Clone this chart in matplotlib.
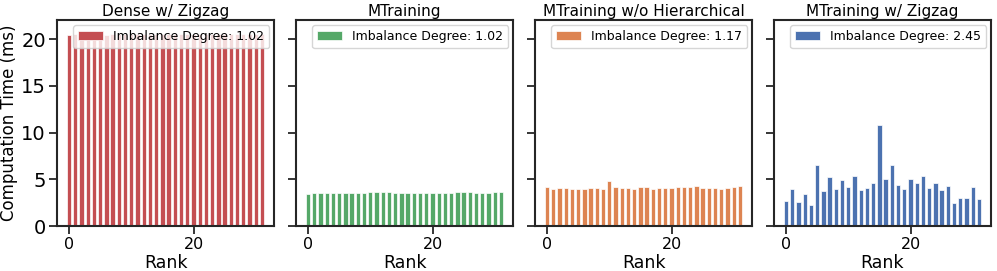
import numpy as np
import matplotlib
matplotlib.use('Agg')
import matplotlib.pyplot as plt

#-----------Data-------------

ranks = np.arange(32)

titles = ['Dense w/ Zigzag', 'MTraining', 'MTraining w/o Hierarchical', 'MTraining w/ Zigzag']
imbalance = ['1.02', '1.02', '1.17', '2.45']
colors = ['#C44E52', '#55A868', '#DD8452', '#4C72B0']

dense_zigzag = [20.4, 20.5, 20.5, 20.5, 20.5, 20.5, 20.4, 20.5, 20.5, 20.5, 20.5, 20.5,
                20.5, 20.5, 20.5, 20.5, 20.5, 20.5, 20.5, 20.5, 20.5, 20.5, 20.5, 20.5,
                20.5, 20.5, 20.5, 20.5, 20.5, 20.5, 20.5, 20.5]

mtraining = [3.46, 3.50, 3.57, 3.57, 3.57, 3.57, 3.57, 3.57, 3.50, 3.50, 3.61, 3.61,
             3.61, 3.61, 3.57, 3.50, 3.50, 3.57, 3.57, 3.57, 3.57, 3.57, 3.54, 3.54,
             3.61, 3.61, 3.61, 3.57, 3.57, 3.57, 3.61, 3.61]

mtraining_no_hier = [4.18, 3.96, 4.04, 4.04, 4.00, 3.96, 3.93, 4.04, 4.11, 4.00, 4.82, 4.14,
                     4.07, 4.07, 3.96, 4.14, 4.21, 4.00, 4.04, 4.04, 4.04, 4.14, 4.21, 4.14,
                     4.25, 4.07, 4.07, 4.07, 4.00, 4.11, 4.14, 4.25]

mtraining_zigzag = [2.64, 3.93, 2.54, 3.39, 2.29, 6.57, 3.79, 5.21, 3.96, 4.93, 4.14, 5.32,
                    3.89, 4.04, 4.61, 10.79, 5.07, 6.50, 4.36, 3.93, 5.00, 4.57, 5.39, 4.04,
                    4.57, 3.89, 4.29, 2.50, 2.96, 2.96, 4.18, 2.89]

series = [dense_zigzag, mtraining, mtraining_no_hier, mtraining_zigzag]

#-----------Figure-------------

fig = plt.figure(figsize=(9.97, 2.71), dpi=100)
W, H = 997, 271
lefts = [57, 296, 535, 774]
axw, bottom, top = 217, 226, 20

axes = []
for i in range(4):
    ax = fig.add_axes([lefts[i] / W, 1 - bottom / H, axw / W, (bottom - top) / H],
                      sharey=axes[0] if axes else None)
    axes.append(ax)

for i, ax in enumerate(axes):
    ax.bar(ranks, series[i], width=0.7, color=colors[i], edgecolor='white', linewidth=0.5,
           label='Imbalance Degree: ' + imbalance[i])
    ax.set_title(titles[i], fontsize=11, pad=3)
    ax.set_xlabel('Rank', fontsize=12.5, labelpad=1)
    ax.set_xticks([0, 20])
    ax.tick_params(axis='x', labelsize=11.5, length=6, width=1.3, pad=2, color='#262626')
    ax.tick_params(axis='y', labelsize=14, length=6, width=1.3, pad=2, color='#262626')
    for s in ax.spines.values():
        s.set_linewidth(1.5)
        s.set_color('#262626')
    leg = ax.legend(loc='upper right', fontsize=9, handlelength=2.0, borderaxespad=0.4,
                    fancybox=True, framealpha=0.8)
    leg.get_frame().set_edgecolor('#cccccc')
    if i > 0:
        ax.tick_params(axis='y', labelleft=False)

axes[0].set_ylim(0, 22.05)
axes[0].set_yticks([0, 5, 10, 15, 20])
axes[0].set_ylabel('Computation Time (ms)', fontsize=12, labelpad=2)

fig.savefig('out.png', dpi=100)
